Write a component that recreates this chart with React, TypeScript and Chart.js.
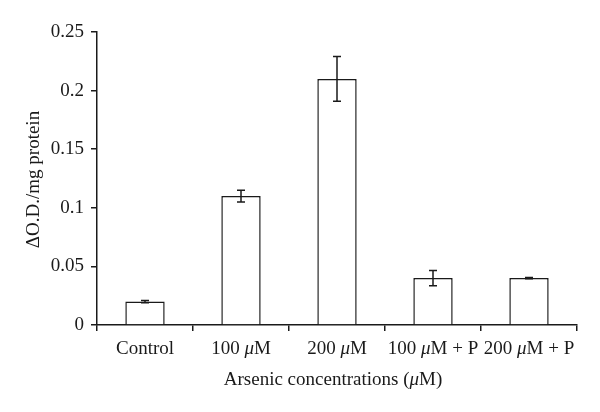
import React, { useEffect, useRef } from "react";
import { Chart, registerables } from "chart.js";

Chart.register(...registerables);

const categories = ["Control", "100 μM", "200 μM", "100 μM + P", "200 μM + P"];
const values = [0.02, 0.11, 0.21, 0.04, 0.04];
const errors = [0.001, 0.005, 0.019, 0.0065, 0.0005];
const yTicks = ["0", "0.05", "0.1", "0.15", "0.2", "0.25"];
const xTitle = "Arsenic concentrations (μM)";
const yTitle = "ΔO.D./mg protein";

const FONT = "'Liberation Serif', 'Times New Roman', serif";
const FS = 19;

function drawMixed(ctx: CanvasRenderingContext2D, text: string, cx: number, cy: number) {
  const parts = text.split(/(μ)/).filter((p) => p.length > 0);
  const fonts = parts.map((p) => (p === "μ" ? `italic ${FS}px ${FONT}` : `${FS}px ${FONT}`));
  let total = 0;
  const widths = parts.map((p, i) => {
    ctx.font = fonts[i];
    const w = ctx.measureText(p).width;
    total += w;
    return w;
  });
  let x = cx - total / 2;
  ctx.textBaseline = "middle";
  ctx.textAlign = "left";
  parts.forEach((p, i) => {
    ctx.font = fonts[i];
    ctx.fillText(p, x, cy);
    x += widths[i];
  });
}

const customPlugin = {
  id: "custom",
  afterDatasetsDraw(chart: any) {
    const ctx = chart.ctx as CanvasRenderingContext2D;
    const xs = chart.scales.x;
    const ys = chart.scales.y;
    ctx.save();
    ctx.strokeStyle = "#1a1a1a";
    ctx.lineWidth = 1.5;
    values.forEach((v, i) => {
      const x = xs.getPixelForValue(i);
      const top = ys.getPixelForValue(v + errors[i]);
      const bot = ys.getPixelForValue(v - errors[i]);
      ctx.beginPath();
      ctx.moveTo(x, top);
      ctx.lineTo(x, bot);
      ctx.moveTo(x - 4, top);
      ctx.lineTo(x + 4, top);
      ctx.moveTo(x - 4, bot);
      ctx.lineTo(x + 4, bot);
      ctx.stroke();
    });
    ctx.restore();
  },
  afterDraw(chart: any) {
    const ctx = chart.ctx as CanvasRenderingContext2D;
    const xs = chart.scales.x;
    const area = chart.chartArea;
    ctx.save();
    ctx.fillStyle = "#1a1a1a";
    categories.forEach((c, i) => {
      drawMixed(ctx, c, xs.getPixelForValue(i), area.bottom + 24);
    });
    drawMixed(ctx, xTitle, (area.left + area.right) / 2 - 4, area.bottom + 55);
    ctx.translate(34, (area.top + area.bottom) / 2 + 1);
    ctx.rotate(-Math.PI / 2);
    ctx.font = `${FS}px ${FONT}`;
    ctx.textAlign = "center";
    ctx.textBaseline = "middle";
    ctx.fillText(yTitle, 0, 0);
    ctx.restore();
  },
};

export default function App() {
  const ref = useRef<HTMLCanvasElement>(null);
  useEffect(() => {
    if (!ref.current) return;
    const chart = new Chart(ref.current, {
      type: "bar",
      data: {
        labels: categories,
        datasets: [
          {
            data: values,
            backgroundColor: "#ffffff",
            borderColor: "#1a1a1a",
            borderWidth: 1.5,
            barPercentage: 0.41,
            categoryPercentage: 1,
          },
        ],
      },
      options: {
        animation: false,
        responsive: false,
        layout: { padding: { top: 32, right: 23, left: 0, bottom: 0 } },
        plugins: { legend: { display: false }, tooltip: { enabled: false } },
        scales: {
          x: {
            grid: {
              offset: true,
              drawOnChartArea: false,
              drawTicks: true,
              tickLength: 6,
              color: "#1a1a1a",
              lineWidth: 1.5,
            },
            border: { color: "#1a1a1a", width: 1.5 },
            ticks: { display: false },
            afterFit(scale: any) {
              scale.height = 87;
            },
          },
          y: {
            min: 0,
            max: 0.25,
            grid: {
              drawOnChartArea: false,
              drawTicks: true,
              tickLength: 6,
              color: "#1a1a1a",
              lineWidth: 1.5,
            },
            border: { color: "#1a1a1a", width: 1.5 },
            ticks: {
              stepSize: 0.05,
              padding: 7,
              color: "#1a1a1a",
              font: { family: FONT, size: FS },
              callback: (_v: any, i: number) => yTicks[i],
            },
            afterFit(scale: any) {
              scale.width = 97;
            },
          },
        },
      },
      plugins: [customPlugin],
    });
    return () => chart.destroy();
  }, []);
  return (
    <div style={{ position: "fixed", left: 0, top: 0, width: 600, height: 412, background: "#fff" }}>
      <canvas ref={ref} width={600} height={412} style={{ width: 600, height: 412 }} />
    </div>
  );
}
